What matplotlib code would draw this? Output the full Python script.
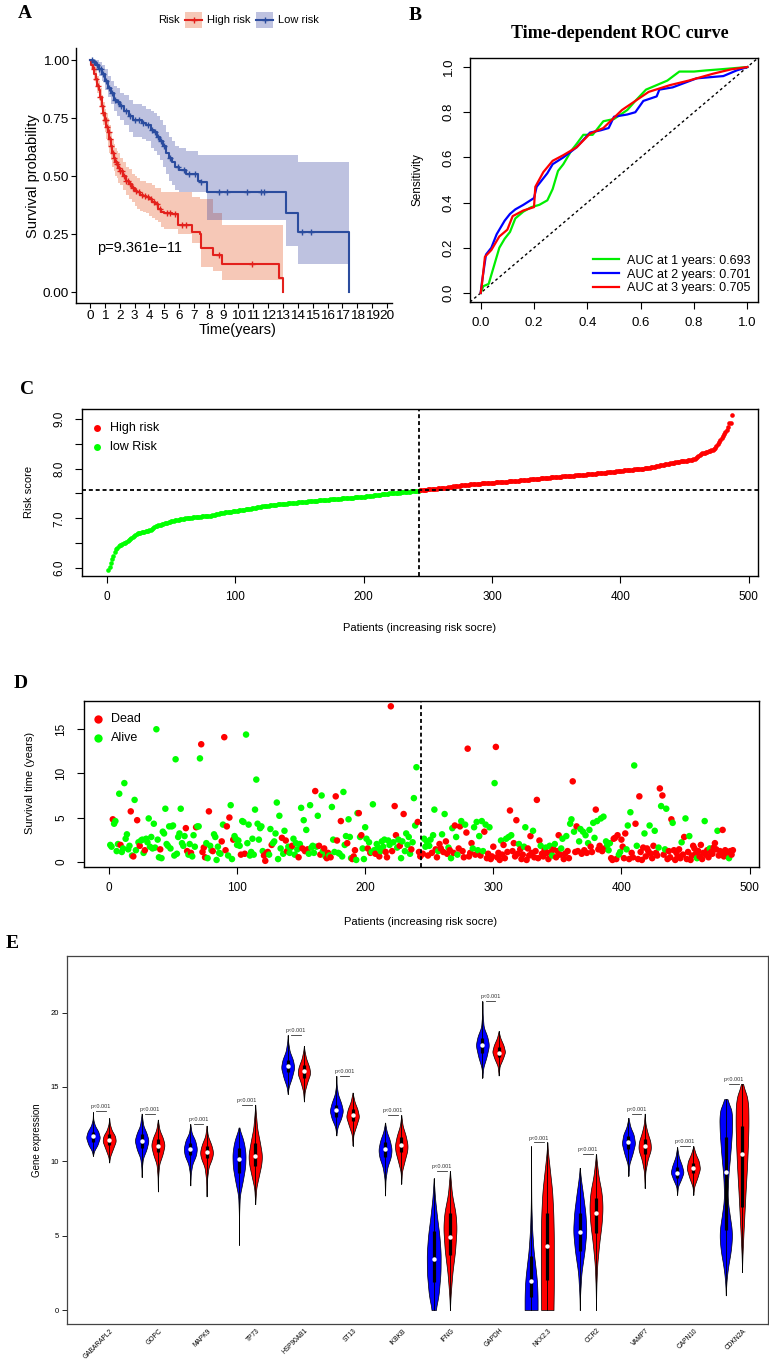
import numpy as np
import matplotlib
matplotlib.use("Agg")
import matplotlib.pyplot as plt
from matplotlib.patches import Rectangle
from matplotlib.lines import Line2D

# ======================= DATA =======================
# ---- Panel A : Kaplan-Meier ----
km_high_time = [0, 0.1, 0.2, 0.3, 0.4, 0.5, 0.6, 0.7, 0.8, 0.9, 1.0, 1.1, 1.2, 1.3, 1.4, 1.5, 1.6, 1.7,
                1.8, 1.9, 2.0, 2.2, 2.4, 2.6, 2.8, 3.0, 3.2, 3.4, 3.6, 3.8, 4.0, 4.2, 4.4, 4.6, 4.8, 5.0,
                5.5, 5.9, 6.9, 7.4, 7.5, 8.3, 8.9, 12.7, 13.0]
km_high_surv = [1.0, 0.98, 0.96, 0.94, 0.92, 0.89, 0.87, 0.84, 0.80, 0.77, 0.74, 0.71, 0.69, 0.66, 0.63,
                0.60, 0.58, 0.56, 0.55, 0.535, 0.52, 0.50, 0.48, 0.465, 0.45, 0.435, 0.43, 0.42, 0.415,
                0.41, 0.40, 0.39, 0.38, 0.36, 0.345, 0.34, 0.335, 0.29, 0.26, 0.25, 0.19, 0.16, 0.12,
                0.06, 0.0]
km_high_lower = [1.0, 0.96, 0.94, 0.91, 0.89, 0.86, 0.83, 0.80, 0.76, 0.72, 0.69, 0.66, 0.63, 0.60, 0.57,
                 0.54, 0.52, 0.50, 0.49, 0.47, 0.46, 0.44, 0.42, 0.40, 0.39, 0.37, 0.36, 0.35, 0.345,
                 0.34, 0.33, 0.32, 0.31, 0.30, 0.28, 0.27, 0.27, 0.25, 0.21, 0.20, 0.11, 0.09, 0.05,
                 0.05, 0.05]
km_high_upper = [1.0, 1.0, 0.99, 0.97, 0.96, 0.93, 0.91, 0.88, 0.85, 0.82, 0.79, 0.77, 0.75, 0.72, 0.69,
                 0.66, 0.64, 0.62, 0.61, 0.60, 0.58, 0.56, 0.54, 0.53, 0.51, 0.50, 0.49, 0.48, 0.48,
                 0.47, 0.47, 0.46, 0.45, 0.45, 0.43, 0.43, 0.43, 0.43, 0.41, 0.40, 0.40, 0.34, 0.29,
                 0.29, 0.29]
km_high_censor = [0.25, 0.4, 0.55, 0.7, 0.8, 0.9, 1.0, 1.05, 1.15, 1.25, 1.35, 1.45, 1.55, 1.65, 1.75,
                  1.85, 1.95, 2.05, 2.15, 2.3, 2.45, 2.55, 2.7, 2.9, 3.1, 3.3, 3.5, 3.7, 3.9, 4.1, 4.3,
                  4.5, 4.7, 5.2, 5.4, 5.7, 6.2, 6.5, 8.7, 10.9]

km_low_time = [0, 0.2, 0.4, 0.6, 0.8, 1.0, 1.2, 1.4, 1.6, 1.8, 2.0, 2.3, 2.6, 2.9, 3.2, 3.5, 3.8, 4.1,
               4.3, 4.5, 4.7, 4.9, 5.1, 5.3, 5.5, 5.7, 6.0, 6.5, 7.3, 7.5, 7.9, 13.2, 14.0, 17.45]
km_low_surv = [1.0, 0.99, 0.98, 0.96, 0.94, 0.91, 0.88, 0.86, 0.83, 0.82, 0.80, 0.78, 0.76, 0.74, 0.74,
               0.73, 0.72, 0.70, 0.69, 0.67, 0.65, 0.63, 0.60, 0.58, 0.56, 0.54, 0.525, 0.51, 0.48,
               0.475, 0.43, 0.34, 0.26, 0.0]
km_low_lower = [1.0, 0.98, 0.96, 0.93, 0.91, 0.87, 0.84, 0.81, 0.78, 0.76, 0.74, 0.72, 0.69, 0.67, 0.67,
                0.66, 0.65, 0.62, 0.61, 0.59, 0.57, 0.54, 0.51, 0.48, 0.46, 0.44, 0.43, 0.43, 0.43,
                0.43, 0.31, 0.20, 0.12, 0.12]
km_low_upper = [1.0, 1.0, 1.0, 0.99, 0.98, 0.96, 0.93, 0.91, 0.89, 0.88, 0.86, 0.85, 0.83, 0.81, 0.81,
                0.80, 0.79, 0.78, 0.77, 0.76, 0.74, 0.72, 0.69, 0.67, 0.65, 0.63, 0.62, 0.61, 0.59,
                0.59, 0.59, 0.59, 0.56, 0.56]
km_low_censor = [0.15, 0.3, 0.45, 0.6, 0.75, 0.9, 1.05, 1.3, 1.5, 1.7, 1.9, 2.1, 2.4, 2.7, 3.0, 3.3,
                 3.6, 3.9, 4.2, 4.4, 4.6, 4.8, 5.0, 5.4, 5.9, 6.3, 6.7, 7.1, 7.5, 8.7, 9.2, 10.6,
                 11.5, 11.7, 14.3, 14.9]
km_pvalue_text = "p=9.361e\u221211"

# ---- Panel B : ROC ----
roc_fpr_1y = [0, 0.01, 0.03, 0.05, 0.07, 0.09, 0.11, 0.13, 0.16, 0.19, 0.22, 0.25, 0.27, 0.29, 0.31,
              0.34, 0.36, 0.385, 0.42, 0.46, 0.5, 0.55, 0.58, 0.62, 0.66, 0.7, 0.745, 0.8, 0.845,
              0.9, 0.95, 1.0]
roc_tpr_1y = [0, 0.03, 0.04, 0.12, 0.2, 0.24, 0.27, 0.33, 0.36, 0.38, 0.39, 0.41, 0.46, 0.54, 0.57,
              0.63, 0.66, 0.70, 0.70, 0.76, 0.77, 0.81, 0.85, 0.9, 0.92, 0.94, 0.98, 0.98, 0.985,
              0.99, 0.995, 1.0]
roc_fpr_2y = [0, 0.005, 0.02, 0.04, 0.06, 0.09, 0.11, 0.13, 0.16, 0.2, 0.21, 0.23, 0.25, 0.27, 0.31,
              0.36, 0.41, 0.45, 0.48, 0.5, 0.55, 0.58, 0.61, 0.66, 0.67, 0.72, 0.81, 0.91, 0.96, 1.0]
roc_tpr_2y = [0, 0.05, 0.17, 0.20, 0.26, 0.32, 0.35, 0.37, 0.39, 0.42, 0.47, 0.50, 0.53, 0.57, 0.60,
              0.645, 0.71, 0.72, 0.73, 0.78, 0.79, 0.80, 0.85, 0.87, 0.90, 0.91, 0.95, 0.96, 0.985, 1.0]
roc_fpr_3y = [0, 0.005, 0.016, 0.04, 0.07, 0.1, 0.12, 0.16, 0.2, 0.205, 0.235, 0.27, 0.31, 0.36, 0.41,
              0.46, 0.53, 0.58, 0.63, 0.71, 0.78, 0.87, 0.94, 1.0]
roc_tpr_3y = [0, 0.04, 0.16, 0.19, 0.25, 0.28, 0.34, 0.365, 0.38, 0.47, 0.535, 0.585, 0.61, 0.645,
              0.705, 0.73, 0.81, 0.85, 0.89, 0.92, 0.94, 0.97, 0.99, 1.0]
roc_labels = ["AUC at 1 years: 0.693", "AUC at 2 years: 0.701", "AUC at 3 years: 0.705"]

# ---- Panel C : sorted risk score ----
risk_score = [
    5.96, 6.02, 6.10, 6.18, 6.25, 6.32, 6.38, 6.41, 6.44, 6.46,
    6.47, 6.48, 6.50, 6.51, 6.52, 6.54, 6.56, 6.58, 6.60, 6.62,
    6.64, 6.66, 6.68, 6.70, 6.71, 6.71, 6.72, 6.72, 6.73, 6.74,
    6.74, 6.75, 6.76, 6.77, 6.79, 6.81, 6.83, 6.84, 6.85, 6.86,
    6.87, 6.87, 6.88, 6.89, 6.90, 6.90, 6.91, 6.92, 6.93, 6.94,
    6.95, 6.95, 6.96, 6.96, 6.97, 6.97, 6.98, 6.98, 6.99, 6.99,
    7.00, 7.00, 7.00, 7.01, 7.01, 7.01, 7.02, 7.02, 7.02, 7.03,
    7.03, 7.03, 7.03, 7.04, 7.04, 7.04, 7.04, 7.05, 7.05, 7.05,
    7.05, 7.06, 7.06, 7.07, 7.08, 7.08, 7.09, 7.10, 7.10, 7.11,
    7.11, 7.12, 7.12, 7.12, 7.13, 7.13, 7.13, 7.14, 7.14, 7.14,
    7.15, 7.15, 7.16, 7.16, 7.17, 7.17, 7.17, 7.18, 7.18, 7.19,
    7.19, 7.19, 7.20, 7.20, 7.21, 7.21, 7.22, 7.22, 7.23, 7.23,
    7.24, 7.24, 7.24, 7.25, 7.25, 7.25, 7.26, 7.26, 7.26, 7.27,
    7.27, 7.27, 7.28, 7.28, 7.28, 7.28, 7.29, 7.29, 7.29, 7.29,
    7.30, 7.30, 7.30, 7.30, 7.31, 7.31, 7.31, 7.31, 7.32, 7.32,
    7.32, 7.32, 7.33, 7.33, 7.33, 7.33, 7.34, 7.34, 7.34, 7.34,
    7.35, 7.35, 7.35, 7.35, 7.36, 7.36, 7.36, 7.36, 7.37, 7.37,
    7.37, 7.37, 7.37, 7.38, 7.38, 7.38, 7.38, 7.38, 7.39, 7.39,
    7.39, 7.39, 7.40, 7.40, 7.40, 7.40, 7.40, 7.41, 7.41, 7.41,
    7.41, 7.41, 7.42, 7.42, 7.42, 7.42, 7.42, 7.43, 7.43, 7.43,
    7.43, 7.44, 7.44, 7.44, 7.45, 7.45, 7.45, 7.46, 7.46, 7.46,
    7.47, 7.47, 7.47, 7.48, 7.48, 7.48, 7.49, 7.49, 7.49, 7.50,
    7.50, 7.50, 7.51, 7.51, 7.51, 7.52, 7.52, 7.52, 7.53, 7.53,
    7.53, 7.53, 7.54, 7.54, 7.54, 7.54, 7.55, 7.55, 7.55, 7.55,
    7.56, 7.56, 7.56,
    7.57, 7.57, 7.57, 7.58, 7.58, 7.58, 7.59,
    7.59, 7.59, 7.59, 7.60, 7.60, 7.60, 7.60, 7.61, 7.61, 7.61,
    7.61, 7.62, 7.62, 7.62, 7.62, 7.63, 7.63, 7.64, 7.64, 7.65,
    7.65, 7.65, 7.66, 7.66, 7.66, 7.67, 7.67, 7.67, 7.68, 7.68,
    7.68, 7.68, 7.69, 7.69, 7.69, 7.69, 7.70, 7.70, 7.70, 7.70,
    7.70, 7.71, 7.71, 7.71, 7.71, 7.71, 7.72, 7.72, 7.72, 7.72,
    7.72, 7.72, 7.73, 7.73, 7.73, 7.73, 7.73, 7.74, 7.74, 7.74,
    7.74, 7.74, 7.75, 7.75, 7.75, 7.75, 7.75, 7.76, 7.76, 7.76,
    7.76, 7.77, 7.77, 7.77, 7.77, 7.78, 7.78, 7.78, 7.78, 7.79,
    7.79, 7.79, 7.79, 7.80, 7.80, 7.80, 7.80, 7.81, 7.81, 7.81,
    7.81, 7.82, 7.82, 7.82, 7.82, 7.83, 7.83, 7.83, 7.83, 7.84,
    7.84, 7.84, 7.84, 7.84, 7.85, 7.85, 7.85, 7.85, 7.85, 7.86,
    7.86, 7.86, 7.86, 7.86, 7.87, 7.87, 7.87, 7.87, 7.87, 7.88,
    7.88, 7.88, 7.88, 7.89, 7.89, 7.89, 7.89, 7.90, 7.90, 7.90,
    7.90, 7.91, 7.91, 7.91, 7.91, 7.92, 7.92, 7.92, 7.92, 7.93,
    7.93, 7.93, 7.93, 7.94, 7.94, 7.94, 7.95, 7.95, 7.95, 7.96,
    7.96, 7.96, 7.97, 7.97, 7.97, 7.97, 7.98, 7.98, 7.98, 7.98,
    7.99, 7.99, 7.99, 7.99, 8.00, 8.00, 8.00, 8.00, 8.01, 8.01,
    8.01, 8.02, 8.02, 8.03, 8.03, 8.04, 8.04, 8.05, 8.06, 8.06,
    8.07, 8.07, 8.08, 8.08, 8.09, 8.09, 8.10, 8.10, 8.11, 8.11,
    8.12, 8.12, 8.13, 8.13, 8.14, 8.14, 8.15, 8.15, 8.15, 8.16,
    8.16, 8.16, 8.17, 8.17, 8.18, 8.18, 8.19, 8.20, 8.21, 8.23,
    8.25, 8.27, 8.29, 8.31, 8.31, 8.32, 8.33, 8.34, 8.35, 8.36,
    8.37, 8.38, 8.40, 8.42, 8.45, 8.49, 8.53, 8.57, 8.61, 8.65,
    8.69, 8.73, 8.78, 8.84, 8.91, 8.92, 9.07]
risk_cutoff = 7.57
n_low_risk = 243

# ---- Panel D : survival status ----
surv_time = [
    1.9, 1.7, 4.8, 4.3, 4.6, 1.2, 2.0, 7.7, 1.9, 1.1,
    1.5, 8.9, 2.6, 3.1, 1.4, 1.8, 5.7, 0.7, 0.6, 7.0,
    1.3, 4.7, 2.2, 1.8, 2.4, 2.5, 1.0, 1.3, 2.6, 2.2,
    4.9, 1.7, 2.8, 1.5, 4.3, 1.6, 15.0, 2.5, 0.5, 1.4,
    0.4, 3.4, 3.2, 6.0, 2.0, 1.8, 4.0, 1.5, 4.0, 4.1,
    0.7, 11.6, 0.9, 2.8, 3.2, 6.0, 2.1, 1.8, 2.9, 3.8,
    1.2, 0.8, 2.0, 1.0, 0.6, 3.0, 1.7, 3.9, 4.0, 4.0,
    11.7, 13.3, 1.1, 1.6, 0.5, 2.1, 0.4, 5.7, 1.8, 1.3,
    1.2, 3.1, 2.8, 0.2, 1.7, 1.0, 0.9, 2.3, 4.2, 14.1,
    1.3, 4.0, 0.7, 5.0, 6.4, 0.3, 2.5, 2.9, 2.6, 1.9,
    2.4, 1.8, 0.8, 4.6, 4.5, 0.9, 14.4, 2.1, 4.2, 0.7,
    1.1, 2.6, 0.8, 5.9, 9.3, 4.3, 2.5, 3.8, 4.0, 1.2,
    0.7, 0.1, 1.0, 1.1, 0.8, 3.7, 1.9, 2.1, 2.3, 3.2,
    6.7, 0.3, 5.2, 1.5, 2.7, 0.9, 3.5, 2.4, 1.2, 1.7,
    1.0, 1.6, 1.8, 2.6, 0.8, 2.1, 1.4, 0.5, 2.0, 6.1,
    1.5, 4.7, 1.2, 3.6, 1.4, 0.9, 6.4, 1.6, 1.8, 1.0,
    8.0, 1.7, 5.2, 1.8, 0.8, 7.5, 1.2, 1.5, 0.6, 0.4,
    1.0, 0.7, 0.5, 6.2, 2.5, 1.1, 7.4, 2.4, 1.0, 0.9,
    4.6, 0.6, 7.9, 1.9, 2.9, 2.1, 4.8, 2.8, 0.4, 0.3,
    0.6, 1.3, 0.2, 5.5, 5.5, 2.8, 3.0, 1.5, 0.3, 3.9,
    2.6, 1.5, 2.2, 1.0, 1.1, 6.5, 1.3, 0.9, 2.0, 1.6,
    0.6, 1.2, 2.3, 1.7, 2.5, 1.1, 0.5, 2.4, 1.9, 17.6,
    1.2, 2.2, 6.3, 3.0, 1.6, 2.5, 1.8, 0.4, 2.3, 5.4,
    1.2, 3.2, 1.9, 2.8, 0.9, 1.4, 2.2, 7.2, 4.1, 10.7,
    4.5, 1.1, 0.6, 0.8, 0.9, 2.6, 1.7, 2.3, 0.7, 1.8,
    2.5, 1.0, 3.0, 5.9, 1.4, 0.5, 1.2, 2.0, 1.5, 3.1,
    1.1, 5.4, 2.3, 0.9, 1.6, 1.3, 0.4, 3.8, 1.0, 4.1,
    2.8, 0.8, 1.5, 4.0, 4.6, 1.2, 0.5, 4.2, 3.3, 12.8,
    0.6, 1.0, 2.1, 1.5, 3.9, 0.8, 4.5, 1.3, 2.9, 0.7,
    4.6, 1.2, 3.4, 4.2, 0.4, 0.9, 3.9, 0.3, 0.6, 1.7,
    8.9, 13.0, 0.5, 1.0, 0.2, 2.4, 0.8, 1.9, 0.4, 2.6,
    1.1, 2.8, 5.8, 3.0, 1.2, 2.1, 0.6, 4.7, 0.9, 2.0,
    1.4, 0.3, 0.8, 1.7, 3.9, 0.2, 1.5, 0.7, 2.9, 1.0,
    3.5, 0.5, 1.2, 7.0, 0.4, 2.4, 1.8, 0.9, 0.6, 1.3,
    1.6, 1.0, 0.3, 1.8, 1.1, 0.7, 1.4, 2.0, 0.5, 1.2,
    3.0, 0.8, 1.5, 2.6, 0.3, 0.9, 2.9, 1.2, 0.4, 4.3,
    4.8, 9.1, 3.4, 1.1, 4.0, 1.2, 2.3, 3.7, 0.9, 3.4,
    1.3, 3.0, 1.0, 2.1, 3.6, 1.7, 1.1, 4.4, 2.7, 5.9,
    4.6, 1.4, 1.8, 4.9, 1.2, 5.1, 1.5, 2.3, 1.9, 1.3,
    2.1, 0.4, 0.2, 2.6, 2.7, 0.3, 3.0, 0.8, 1.1, 2.5,
    1.7, 0.4, 3.2, 1.4, 4.1, 0.3, 5.6, 1.0, 0.5, 10.9,
    4.3, 1.8, 0.3, 7.4, 1.1, 0.2, 1.6, 3.2, 0.6, 1.5,
    1.2, 4.1, 0.9, 0.4, 1.8, 3.5, 1.0, 0.7, 1.6, 8.3,
    6.3, 7.5, 0.8, 1.4, 6.0, 0.3, 1.2, 0.5, 4.8, 4.4,
    1.3, 0.2, 1.0, 0.6, 1.4, 0.4, 2.2, 0.8, 2.8, 4.9,
    0.3, 1.1, 2.9, 0.2, 0.7, 1.8, 1.5, 0.9, 0.4, 1.2,
    0.6, 1.9, 0.3, 1.0, 4.6, 0.8, 1.3, 0.5, 1.5, 1.1,
    0.9, 1.6, 2.1, 1.4, 3.5, 0.7, 1.2, 1.0, 3.6, 0.6,
    1.3, 0.9, 1.1, 0.4, 1.2, 0.8, 1.3]
surv_dead = [
    0, 0, 1, 0, 0, 0, 0, 0, 1, 0,
    0, 0, 0, 0, 0, 0, 1, 0, 1, 0,
    0, 1, 0, 1, 0, 0, 0, 1, 0, 0,
    0, 0, 0, 0, 0, 0, 0, 0, 0, 1,
    0, 0, 0, 0, 0, 0, 0, 0, 0, 0,
    0, 0, 0, 0, 0, 0, 0, 0, 0, 1,
    1, 0, 0, 1, 0, 0, 0, 1, 0, 0,
    0, 1, 1, 1, 1, 0, 0, 1, 0, 0,
    1, 0, 0, 0, 0, 0, 0, 1, 0, 1,
    1, 1, 0, 1, 0, 0, 1, 0, 0, 0,
    0, 0, 1, 0, 0, 1, 0, 0, 0, 0,
    0, 0, 0, 0, 0, 0, 0, 0, 0, 0,
    1, 1, 1, 1, 0, 0, 1, 0, 0, 0,
    0, 0, 0, 0, 1, 0, 0, 1, 1, 0,
    0, 0, 1, 0, 0, 0, 0, 1, 0, 0,
    1, 0, 1, 0, 1, 0, 0, 0, 0, 0,
    1, 0, 0, 1, 1, 0, 0, 1, 0, 1,
    1, 0, 1, 0, 0, 0, 1, 1, 0, 0,
    1, 0, 0, 0, 0, 1, 0, 0, 0, 1,
    1, 1, 0, 0, 1, 0, 1, 0, 0, 0,
    0, 1, 0, 1, 0, 0, 0, 1, 0, 0,
    1, 0, 0, 0, 0, 1, 1, 0, 0, 1,
    1, 0, 1, 1, 0, 0, 1, 0, 0, 1,
    0, 0, 0, 0, 0, 1, 0, 0, 0, 0,
    1, 1, 1, 1, 1, 0, 0, 0, 1, 0,
    0, 1, 0, 0, 1, 1, 0, 1, 1, 0,
    1, 0, 1, 1, 0, 1, 0, 0, 1, 1,
    0, 0, 1, 1, 0, 1, 1, 0, 1, 1,
    1, 1, 1, 0, 0, 1, 0, 0, 0, 1,
    0, 0, 1, 0, 1, 1, 0, 1, 1, 1,
    0, 1, 1, 1, 1, 0, 1, 1, 1, 0,
    1, 0, 1, 0, 1, 1, 1, 1, 1, 0,
    1, 1, 1, 0, 0, 1, 1, 1, 1, 1,
    0, 1, 1, 1, 1, 1, 0, 1, 1, 1,
    0, 1, 1, 0, 1, 0, 1, 0, 1, 1,
    1, 1, 0, 0, 1, 1, 0, 1, 1, 0,
    0, 1, 0, 1, 1, 1, 0, 0, 1, 0,
    1, 0, 1, 0, 0, 1, 1, 0, 0, 1,
    0, 1, 1, 0, 1, 0, 1, 0, 0, 0,
    0, 1, 1, 1, 1, 1, 1, 0, 0, 1,
    1, 1, 1, 0, 0, 1, 0, 1, 1, 0,
    1, 0, 1, 1, 1, 1, 1, 0, 1, 1,
    1, 0, 1, 1, 1, 0, 1, 1, 0, 1,
    0, 1, 1, 0, 0, 1, 1, 1, 1, 0,
    1, 1, 1, 1, 1, 1, 0, 1, 1, 0,
    1, 1, 0, 1, 1, 1, 1, 1, 0, 1,
    1, 1, 1, 1, 0, 1, 1, 1, 0, 1,
    1, 1, 1, 1, 0, 1, 1, 1, 1, 1,
    1, 1, 1, 0, 1, 1, 1]

# ---- Panel E : violins ----
genes = ["GABARAPL2", "GOPC", "MAPK9", "TP73", "HSP90AB1", "ST13", "IKBKB", "IFNG", "GAPDH",
         "NKX2.3", "CCR2", "VAMP7", "CAPN10", "CDKN2A"]
# density outline knots (value, half-width) for low-risk (blue) and high-risk (red) groups
low_shape = [
    [(10.37, 0), (10.7, 0.07), (11.1, 0.28), (11.6, 0.43), (12.0, 0.33), (12.4, 0.12), (12.8, 0.02), (13.3, 0)],
    [(8.94, 0), (9.6, 0.02), (10.2, 0.08), (10.8, 0.3), (11.4, 0.43), (11.9, 0.3), (12.4, 0.1), (13.2, 0)],
    [(8.38, 0), (9.2, 0.03), (9.8, 0.12), (10.4, 0.35), (10.85, 0.41), (11.4, 0.3), (11.9, 0.08), (12.5, 0)],
    [(4.39, 0), (6.5, 0.01), (7.7, 0.05), (8.6, 0.22), (9.6, 0.38), (10.5, 0.41), (11.3, 0.3), (11.9, 0.12), (12.27, 0)],
    [(14.53, 0), (15.0, 0.06), (15.6, 0.25), (16.3, 0.41), (16.8, 0.33), (17.4, 0.12), (18.0, 0.03), (18.48, 0)],
    [(11.74, 0), (12.3, 0.07), (12.9, 0.3), (13.4, 0.41), (13.9, 0.3), (14.5, 0.1), (15.1, 0.02), (15.74, 0)],
    [(7.7, 0), (8.8, 0.03), (9.6, 0.14), (10.3, 0.36), (10.8, 0.41), (11.4, 0.3), (12.0, 0.1), (12.6, 0)],
    [(0, 0.12), (1.0, 0.3), (2.5, 0.42), (3.8, 0.43), (5.0, 0.35), (6.3, 0.2), (7.5, 0.08), (8.85, 0)],
    [(15.63, 0), (16.3, 0.05), (17.0, 0.25), (17.8, 0.41), (18.4, 0.3), (19.0, 0.08), (19.8, 0.02), (20.76, 0)],
    [(0, 0.4), (1.0, 0.4), (2.0, 0.36), (3.0, 0.26), (4.0, 0.15), (5.5, 0.06), (7.0, 0.02), (8.0, 0.01), (11.0, 0)],
    [(0, 0), (1.0, 0.02), (2.5, 0.1), (4.0, 0.3), (5.3, 0.41), (6.5, 0.35), (7.8, 0.2), (8.8, 0.07), (9.56, 0)],
    [(9.03, 0), (9.8, 0.05), (10.5, 0.25), (11.2, 0.41), (11.8, 0.32), (12.3, 0.12), (12.92, 0)],
    [(7.75, 0), (8.3, 0.05), (8.8, 0.25), (9.25, 0.4), (9.7, 0.3), (10.3, 0.1), (10.95, 0)],
    [(0.99, 0), (2.0, 0.04), (3.0, 0.15), (4.0, 0.32), (5.2, 0.4), (6.3, 0.25), (7.5, 0.1), (9.0, 0.15),
     (10.5, 0.28), (12.0, 0.38), (13.2, 0.4), (13.9, 0.25), (14.18, 0)],
]
high_shape = [
    [(9.92, 0), (10.3, 0.05), (10.8, 0.22), (11.35, 0.41), (11.7, 0.36), (12.1, 0.15), (12.5, 0.04), (12.9, 0)],
    [(7.97, 0), (9.0, 0.02), (9.8, 0.08), (10.5, 0.3), (11.1, 0.42), (11.6, 0.3), (12.1, 0.1), (12.8, 0)],
    [(7.64, 0), (8.8, 0.03), (9.6, 0.12), (10.2, 0.34), (10.6, 0.41), (11.1, 0.3), (11.7, 0.08), (12.39, 0)],
    [(7.12, 0), (8.2, 0.06), (9.0, 0.22), (9.8, 0.38), (10.4, 0.42), (11.2, 0.3), (12.2, 0.12), (13.2, 0.04), (13.8, 0)],
    [(14.02, 0), (14.7, 0.05), (15.3, 0.2), (15.9, 0.39), (16.3, 0.34), (16.9, 0.14), (17.4, 0.04), (17.76, 0)],
    [(11.06, 0), (11.8, 0.05), (12.5, 0.26), (13.0, 0.4), (13.5, 0.3), (14.0, 0.12), (14.62, 0)],
    [(8.5, 0), (9.3, 0.04), (10.0, 0.2), (10.7, 0.37), (11.1, 0.39), (11.7, 0.28), (12.4, 0.08), (13.1, 0)],
    [(0, 0), (1.0, 0.04), (2.5, 0.15), (4.0, 0.32), (5.5, 0.41), (6.5, 0.35), (7.8, 0.12), (9.34, 0)],
    [(15.77, 0), (16.4, 0.06), (16.9, 0.26), (17.35, 0.4), (17.8, 0.3), (18.3, 0.1), (18.75, 0)],
    [(0, 0.38), (1.5, 0.4), (3.0, 0.4), (5.0, 0.4), (6.5, 0.37), (8.0, 0.3), (9.5, 0.15), (10.5, 0.05), (11.27, 0)],
    [(0, 0), (1.5, 0.02), (3.0, 0.07), (4.5, 0.2), (5.8, 0.35), (6.9, 0.41), (7.9, 0.35), (9.0, 0.15), (10.47, 0)],
    [(8.2, 0), (9.3, 0.04), (10.1, 0.18), (10.8, 0.39), (11.3, 0.36), (11.9, 0.18), (12.5, 0.05), (13.2, 0)],
    [(7.75, 0), (8.3, 0.05), (8.9, 0.25), (9.5, 0.41), (10.0, 0.34), (10.5, 0.14), (11.02, 0)],
    [(2.55, 0), (3.5, 0.02), (5.0, 0.08), (6.5, 0.15), (8.0, 0.22), (9.5, 0.3), (11.0, 0.36), (12.5, 0.4),
     (14.0, 0.38), (14.8, 0.2), (15.2, 0)],
]
low_median = [11.67, 11.38, 10.82, 10.15, 16.42, 13.42, 10.82, 3.43, 17.83, 1.97, 5.24, 11.29, 9.23, 9.27]
high_median = [11.45, 11.06, 10.59, 10.37, 16.04, 13.08, 11.10, 4.90, 17.31, 4.28, 6.52, 11.00, 9.56, 10.48]
low_q1 = [11.3, 10.9, 10.4, 9.2, 16.0, 13.0, 10.3, 1.9, 17.3, 0.9, 4.0, 10.8, 8.9, 5.4]
low_q3 = [12.0, 11.8, 11.2, 10.9, 16.8, 13.8, 11.3, 5.3, 18.3, 3.6, 6.5, 11.7, 9.6, 11.6]
high_q1 = [11.1, 10.6, 10.2, 9.7, 15.6, 12.7, 10.6, 3.7, 17.0, 2.0, 5.2, 10.5, 9.2, 6.9]
high_q3 = [11.8, 11.5, 11.0, 11.2, 16.5, 13.5, 11.6, 6.5, 17.7, 6.5, 7.5, 11.5, 9.9, 12.4]
pvalue_bar_y = [13.39, 13.2, 12.5, 13.8, 18.48, 15.74, 13.1, 9.34, 20.76, 11.27, 10.47, 13.2, 11.02, 15.2]
pvalue_text = ["p<0.001"] * 14

# ======================= FIGURE =======================
W, H = 769, 1361
plt.rcParams['font.family'] = ['Liberation Sans', 'DejaVu Sans']
SERIF = ['Liberation Serif', 'DejaVu Serif']
fig = plt.figure(figsize=(W / 100, H / 100), dpi=100)


def rect(l, t, r, b):
    return [l / W, 1 - b / H, (r - l) / W, (b - t) / H]


def fx(x):
    return x / W


def fy(y):
    return 1 - y / H


def panel_letter(x, y, s):
    fig.text(fx(x), fy(y), s, fontsize=14, fontweight='bold', family=SERIF, ha='center', va='center')


RED_KM = '#E3211C'
BLUE_KM = '#2B4C9E'
FILL_RED = '#E34A12'
FILL_BLUE = '#2A379B'

# ---------- Panel A ----------
axA = fig.add_axes(rect(76, 48, 392, 303))
groups = [
    (km_high_time, km_high_surv, km_high_lower, km_high_upper, km_high_censor, RED_KM, FILL_RED),
    (km_low_time, km_low_surv, km_low_lower, km_low_upper, km_low_censor, BLUE_KM, FILL_BLUE),
]
for t, s, lo, hi, cen, col, fcol in groups:
    axA.fill_between(t, lo, hi, step='post', color=fcol, alpha=0.3, lw=0)
for t, s, lo, hi, cen, col, fcol in groups:
    t = np.asarray(t)
    s = np.asarray(s)
    axA.step(t, s, where='post', color=col, lw=1.5)
    idx = np.searchsorted(t, cen, side='right') - 1
    axA.plot(cen, s[idx], ls='none', marker='+', ms=5, mew=1.0, color=col)
axA.set_xlim(-0.94, 20.34)
axA.set_ylim(-0.047, 1.052)
axA.set_xticks(range(21))
axA.set_yticks([0, 0.25, 0.5, 0.75, 1.0], ['0.00', '0.25', '0.50', '0.75', '1.00'])
for sp in ['top', 'right']:
    axA.spines[sp].set_visible(False)
for sp in ['left', 'bottom']:
    axA.spines[sp].set_linewidth(1.0)
axA.tick_params(labelsize=9.7, length=3.5, width=0.8, pad=1.5, colors='black')
axA.text(0.45, 0.19, km_pvalue_text, fontsize=10.5, va='center', ha='left')
fig.text(fx(33), fy(176), 'Survival probability', rotation=90, fontsize=10.5, ha='center', va='center')
fig.text(fx(238), fy(330), 'Time(years)', fontsize=10.5, ha='center', va='center')
# legend (ggplot style, horizontal)
fig.text(fx(158), fy(20), 'Risk', fontsize=8, ha='left', va='center')
for (x0, x1, col, fcol, lab) in [(185, 202, RED_KM, FILL_RED, 'High risk'),
                                 (256, 273, BLUE_KM, FILL_BLUE, 'Low risk')]:
    fig.add_artist(Rectangle((fx(x0), fy(28)), (x1 - x0) / W, 16 / H, transform=fig.transFigure,
                             facecolor=fcol, alpha=0.3, lw=0))
    fig.add_artist(Line2D([fx(x0), fx(x1)], [fy(20), fy(20)], transform=fig.transFigure, color=col, lw=1.5))
    fig.add_artist(Line2D([fx((x0 + x1) / 2)], [fy(20)], transform=fig.transFigure, color=col,
                          marker='+', ms=5, mew=1.0))
    fig.text(fx(x1 + 5), fy(20), lab, fontsize=8, ha='left', va='center')
panel_letter(25, 14, 'A')

# ---------- Panel B ----------
axB = fig.add_axes(rect(470, 58, 758, 302))
axB.axline((0, 0), slope=1, color='black', ls=(0, (2, 2)), lw=1.0)
for fpr, tpr, col, lab in [(roc_fpr_1y, roc_tpr_1y, '#00EE00', roc_labels[0]),
                           (roc_fpr_2y, roc_tpr_2y, '#0000FF', roc_labels[1]),
                           (roc_fpr_3y, roc_tpr_3y, '#FF0000', roc_labels[2])]:
    axB.plot(fpr, tpr, color=col, lw=1.6, label=lab)
axB.set_xlim(-0.04, 1.04)
axB.set_ylim(-0.04, 1.04)
ticks = [0, 0.2, 0.4, 0.6, 0.8, 1.0]
tlabs = ['0.0', '0.2', '0.4', '0.6', '0.8', '1.0']
axB.set_xticks(ticks, tlabs)
axB.set_yticks(ticks, tlabs, rotation=90, va='center')
axB.tick_params(labelsize=9.5, length=5, width=0.8, pad=6)
for sp in axB.spines.values():
    sp.set_linewidth(1.0)
axB.legend(loc='lower right', frameon=False, fontsize=9, handlelength=2.1, handletextpad=0.65,
           labelspacing=0.15, borderaxespad=0.3, borderpad=0.3)
fig.text(fx(417), fy(180), 'Sensitivity', rotation=90, fontsize=8.5, ha='center', va='center')
fig.text(fx(620), fy(33), 'Time-dependent ROC curve', fontsize=13, fontweight='bold', family=SERIF,
         ha='center', va='center')
panel_letter(415, 15, 'B')

# ---------- Panel C ----------
axC = fig.add_axes(rect(82, 409, 758, 576))
score = np.asarray(risk_score)
pat = np.arange(1, len(score) + 1)
is_low = pat <= n_low_risk
axC.scatter(pat[is_low], score[is_low], s=11, color='#00FF00', lw=0)
axC.scatter(pat[~is_low], score[~is_low], s=11, color='#FF0000', lw=0)
axC.axhline(risk_cutoff, color='black', ls=(0, (2.2, 1.6)), lw=1.3)
axC.axvline(n_low_risk + 0.5, color='black', ls=(0, (2.2, 1.6)), lw=1.3)
axC.set_xlim(-19.5, 507.4)
axC.set_ylim(5.84, 9.2)
axC.set_xticks([0, 100, 200, 300, 400, 500])
axC.set_yticks([6.0, 6.5, 7.0, 7.5, 8.0, 8.5, 9.0], ['6.0', '', '7.0', '', '8.0', '', '9.0'],
               rotation=90, va='center')
axC.tick_params(labelsize=8.5, length=5, width=0.8)
axC.tick_params(axis='x', pad=6)
axC.tick_params(axis='y', pad=7)
for sp in axC.spines.values():
    sp.set_linewidth(1.0)


def ax_frac(ax_box, px, py):
    l, t, r, b = ax_box
    return (px - l) / (r - l), (b - py) / (b - t)


boxC = (82, 409, 758, 576)
for (py, col, lab) in [(428, '#FF0000', 'High risk'), (447, '#00FF00', 'low Risk')]:
    xa, ya = ax_frac(boxC, 97, py)
    axC.plot([xa], [ya], 'o', ms=5, color=col, mec='none', transform=axC.transAxes)
    xt, _ = ax_frac(boxC, 110, py)
    axC.text(xt, ya, lab, fontsize=9, ha='left', va='center', transform=axC.transAxes)
fig.text(fx(29), fy(492), 'Risk score', rotation=90, fontsize=8, ha='center', va='center')
fig.text(fx(420), fy(628), 'Patients (increasing risk socre)', fontsize=8, ha='center', va='center')
panel_letter(27, 390, 'C')

# ---------- Panel D ----------
axD = fig.add_axes(rect(84, 701, 759, 867))
st = np.asarray(surv_time)
dead = np.asarray(surv_dead)
patD = np.arange(1, len(st) + 1)
cols = np.where(dead == 1, '#FF0000', '#00FF00')
axD.scatter(patD, st, s=22, c=cols, lw=0)
axD.axvline(n_low_risk + 0.5, color='black', ls=(0, (2.2, 1.6)), lw=1.3)
axD.set_xlim(-19.5, 507.4)
axD.set_ylim(-0.6, 18.2)
axD.set_xticks([0, 100, 200, 300, 400, 500])
axD.set_yticks([0, 5, 10, 15], ['0', '5', '10', '15'], rotation=90, va='center')
axD.tick_params(labelsize=8.5, length=5, width=0.8)
axD.tick_params(axis='x', pad=6)
axD.tick_params(axis='y', pad=7)
for sp in axD.spines.values():
    sp.set_linewidth(1.0)
boxD = (84, 701, 759, 867)
for (py, col, lab) in [(719, '#FF0000', 'Dead'), (738, '#00FF00', 'Alive')]:
    xa, ya = ax_frac(boxD, 98, py)
    axD.plot([xa], [ya], 'o', ms=6, color=col, mec='none', transform=axD.transAxes)
    xt, _ = ax_frac(boxD, 111, py)
    axD.text(xt, ya, lab, fontsize=9, ha='left', va='center', transform=axD.transAxes)
fig.text(fx(30), fy(783), 'Survival time (years)', rotation=90, fontsize=8, ha='center', va='center')
fig.text(fx(421), fy(922), 'Patients (increasing risk socre)', fontsize=8, ha='center', va='center')
panel_letter(21, 683, 'D')

# ---------- Panel E ----------
axE = fig.add_axes(rect(67, 956, 768, 1324))


def draw_violin(ax, x, knots, med, q1, q3, color):
    ky = np.array([k[0] for k in knots], dtype=float)
    kw = np.array([k[1] for k in knots], dtype=float)
    yy = np.linspace(ky[0], ky[-1], 240)
    ww = np.interp(yy, ky, kw)
    k = 21
    padded = np.pad(ww, k // 2, mode='edge')
    ww = np.convolve(padded, np.ones(k) / k, mode='valid')
    ax.fill_betweenx(yy, x - ww, x + ww, facecolor=color, edgecolor='black', lw=0.5)
    ax.plot([x, x], [ky[0], ky[-1]], color='black', lw=0.6)
    ax.plot([x, x], [q1, q3], color='black', lw=2.3, solid_capstyle='butt')
    ax.plot([x], [med], 'o', color='white', ms=3.2, mec='none')


for i, g in enumerate(genes):
    xb = 3 * i + 1
    xr = 3 * i + 2
    draw_violin(axE, xb, low_shape[i], low_median[i], low_q1[i], low_q3[i], '#0000FF')
    draw_violin(axE, xr, high_shape[i], high_median[i], high_q1[i], high_q3[i], '#FF0000')
    mid = 3 * i + 1.5
    axE.plot([mid - 0.3, mid + 0.3], [pvalue_bar_y[i]] * 2, color='#333333', lw=0.6)
    axE.text(mid, pvalue_bar_y[i] + 0.12, pvalue_text[i], fontsize=4, color='#333333',
             ha='center', va='bottom')
    axE.text(mid + 0.55, -0.009, g, rotation=45, rotation_mode='anchor', ha='right', va='top',
             fontsize=4.8, transform=axE.get_xaxis_transform())
axE.set_xlim(-0.6, 42.6)
axE.set_ylim(-0.94, 23.8)
axE.set_xticks([])
axE.set_yticks([0, 5, 10, 15, 20])
axE.tick_params(axis='y', labelsize=5.5, length=3.5, width=0.6, pad=2.5)
for sp in axE.spines.values():
    sp.set_linewidth(0.9)
    sp.set_color('#444444')
fig.text(fx(37), fy(1140), 'Gene expression', rotation=90, fontsize=7, ha='center', va='center')
panel_letter(12, 944, 'E')

fig.savefig('out.png', dpi=100)
